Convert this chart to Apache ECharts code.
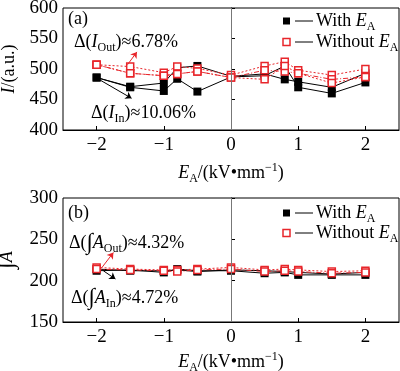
<!DOCTYPE html>
<html><head><meta charset="utf-8">
<script src="https://cdn.jsdelivr.net/npm/echarts@6/dist/echarts.min.js"></script>
<style>html,body{margin:0;padding:0;background:#fff}#c{width:400px;height:371px}</style>
</head><body><div id="c"></div>
<script>
// ---- data ----
const xVals = [-2, -1.5, -1, -0.8, -0.5, 0, 0.5, 0.8, 1, 1.5, 2];
const xTicks = [-2, -1, 0, 1, 2];
// panel (a): intensity I (a.u.)
const aWith1    = [486, 471, 477, 502, 505, 488, 492, 483, 479, 470, 493];
const aWith2    = [486, 470, 464, 484, 463, 487, 489, 505, 470, 460, 478];
const aWithout1 = [507, 504, 494, 504, 501, 490, 505, 512, 498, 490, 500];
const aWithout2 = [507, 493, 489, 492, 496, 486, 498, 496, 493, 483, 487];
const aWithout3 = [507, 493, 489, 492, 496, 486, 483, 505, 493, 477, 487];
// panel (b): integral A
const bWith1    = [212, 213, 210, 214, 212, 212, 209, 210, 207, 207, 207];
const bWith2    = [214, 212, 212, 213, 211, 213, 212, 211, 210, 208, 210];
const bWithout1 = [216, 214, 213, 213, 214, 216, 213, 214, 213, 211, 212];
const bWithout2 = [214, 213, 212, 211, 213, 214, 211, 212, 211, 209, 210];
// annotation arrows (data coords)
const aArrowOut = [[-1.54, 507], [-1.40, 528]];
const aArrowIn  = [[-1.95, 482], [-1.48, 452]];
const bArrowOut = [[-1.92, 216], [-1.75, 234]];
const bArrowIn  = [[-1.90, 212], [-1.72, 202]];

const FONT = 'Liberation Serif';
const RED = '#e8262b';
const FS = 18;
const pair = arr => xVals.map((x, i) => [x, arr[i]]);
const rich = {
  n: {fontFamily: FONT, fontSize: FS, color: '#000', lineHeight: 23},
  i: {fontFamily: FONT, fontSize: FS, fontStyle: 'italic', color: '#000', lineHeight: 23},
  sub: {fontFamily: FONT, fontSize: 12, color: '#000', verticalAlign: 'bottom', lineHeight: 23},
  sup: {fontFamily: FONT, fontSize: 12, color: '#000', verticalAlign: 'top', lineHeight: 23},
  big: {fontFamily: FONT, fontSize: 23, color: '#000', lineHeight: 23}
};
const minusFmt = v => String(v).replace('-', '\u2212');

function xAxis(gi, gap) {
  return {
    type: 'value', gridIndex: gi, min: -2.5, max: 2.5,
    axisLine: {lineStyle: {color: '#000', width: 1}},
    axisTick: {inside: true, length: 4, customValues: xTicks, lineStyle: {color: '#000'}},
    axisLabel: {customValues: xTicks, formatter: minusFmt, fontFamily: FONT, fontSize: 19, color: '#000', margin: 6},
    splitLine: {show: false},
    name: '{i|E}{sub|A}{n|/(kV•mm}{sup|\u22121}{n|)}',
    nameLocation: 'middle', nameGap: gap,
    nameTextStyle: {rich: rich}
  };
}
function yAxis(gi, min, max, name, gap) {
  return {
    type: 'value', gridIndex: gi, min: min, max: max, interval: 50,
    axisLine: {lineStyle: {color: '#000', width: 1}},
    axisTick: {inside: true, length: 4, lineStyle: {color: '#000'}},
    axisLabel: {fontFamily: FONT, fontSize: 19, color: '#000', margin: 5},
    splitLine: {show: false},
    name: name, nameLocation: 'middle', nameGap: gap,
    nameTextStyle: {rich: rich}
  };
}
function blackSeries(gi, arr, extra) {
  return Object.assign({
    type: 'line', xAxisIndex: gi, yAxisIndex: gi, data: pair(arr),
    symbol: 'rect', symbolSize: 8, showSymbol: true,
    itemStyle: {color: '#000'}, lineStyle: {color: '#000', width: 1, type: 'solid'}, z: 3
  }, extra || {});
}
function redSeries(gi, arr, dash) {
  return {
    type: 'line', xAxisIndex: gi, yAxisIndex: gi, data: pair(arr),
    symbol: 'rect', symbolSize: 7,
    itemStyle: {color: '#fff', borderColor: RED, borderWidth: 1.5},
    lineStyle: {color: RED, width: 1, type: dash}, z: 4
  };
}
function marks(gi, arrOut, arrIn) {
  return {
    silent: true, symbol: ['none', 'arrow'], symbolSize: 6, label: {show: false},
    data: [
      [{xAxis: 0, yAxis: gi === 0 ? 400 : 150, symbol: 'none', lineStyle: {color: '#777', width: 1, type: 'solid'}},
       {xAxis: 0, yAxis: gi === 0 ? 600 : 300, symbol: 'none'}],
      [{coord: arrOut[0], lineStyle: {color: RED, width: 1, type: 'solid'}}, {coord: arrOut[1]}],
      [{coord: arrIn[0], lineStyle: {color: '#000', width: 1, type: 'solid'}}, {coord: arrIn[1]}]
    ]
  };
}

const chart = echarts.init(document.getElementById('c'), null, {renderer: 'canvas'});
const txt = (x, y, t, align) => ({type: 'text', x: x, y: y, style: {text: t, rich: rich, fontFamily: FONT, fontSize: FS, fill: '#000', align: align || 'left', verticalAlign: 'middle'}, z: 10});
const legend = (y, filled) => [
  {type: 'rect', shape: {x: 283, y: y - 3.5, width: 7, height: 7}, style: filled ? {fill: '#000'} : {fill: '#fff', stroke: RED, lineWidth: 1.5}, z: 10},
  {type: 'line', shape: {x1: 295, y1: y, x2: 313, y2: y}, style: {stroke: '#000', lineWidth: 1}, z: 10}
];

chart.setOption({
  animation: false,
  backgroundColor: '#fff',
  grid: [
    {left: 63, top: 8, width: 336, height: 122, show: true, borderColor: '#000', borderWidth: 1, containLabel: false, outerBoundsMode: 'none'},
    {left: 63, top: 198, width: 336, height: 124, show: true, borderColor: '#000', borderWidth: 1, containLabel: false, outerBoundsMode: 'none'}
  ],
  xAxis: [xAxis(0, 32), xAxis(1, 29)],
  yAxis: [
    yAxis(0, 400, 600, '{i|I}{n|/(a.u.)}', 40),
    yAxis(1, 150, 300, '{big|\u222B}{i|A}', 40)
  ],
  series: [
    blackSeries(0, aWith1, {markLine: marks(0, aArrowOut, aArrowIn)}),
    blackSeries(0, aWith2),
    redSeries(0, aWithout1, [2, 2]),
    redSeries(0, aWithout2, [5, 2, 1, 2]),
    redSeries(0, aWithout3, [2, 2]),
    blackSeries(1, bWith1, {markLine: marks(1, bArrowOut, bArrowIn)}),
    blackSeries(1, bWith2),
    redSeries(1, bWithout1, [2, 2]),
    redSeries(1, bWithout2, [5, 2, 1, 2])
  ],
  graphic: [
    txt(68, 19, '{n|(a)}'),
    txt(74, 42, '{n|Δ(}{i|I}{sub|Out}{n|)≈6.78%}'),
    txt(91, 113, '{n|Δ(}{i|I}{sub|In}{n|)≈10.06%}'),
    ...legend(21, true), ...legend(42, false),
    txt(316, 21, '{n|With }{i|E}{sub|A}'),
    txt(316, 42, '{n|Without }{i|E}{sub|A}'),
    txt(68, 213, '{n|(b)}'),
    txt(69, 243, '{n|Δ(}{big|∫}{i|A}{sub|Out}{n|)≈4.32%}'),
    txt(71, 298, '{n|Δ(}{big|∫}{i|A}{sub|In}{n|)≈4.72%}'),
    ...legend(213, true), ...legend(233, false),
    txt(316, 213, '{n|With }{i|E}{sub|A}'),
    txt(316, 233, '{n|Without }{i|E}{sub|A}')
  ]
});
</script></body></html>
